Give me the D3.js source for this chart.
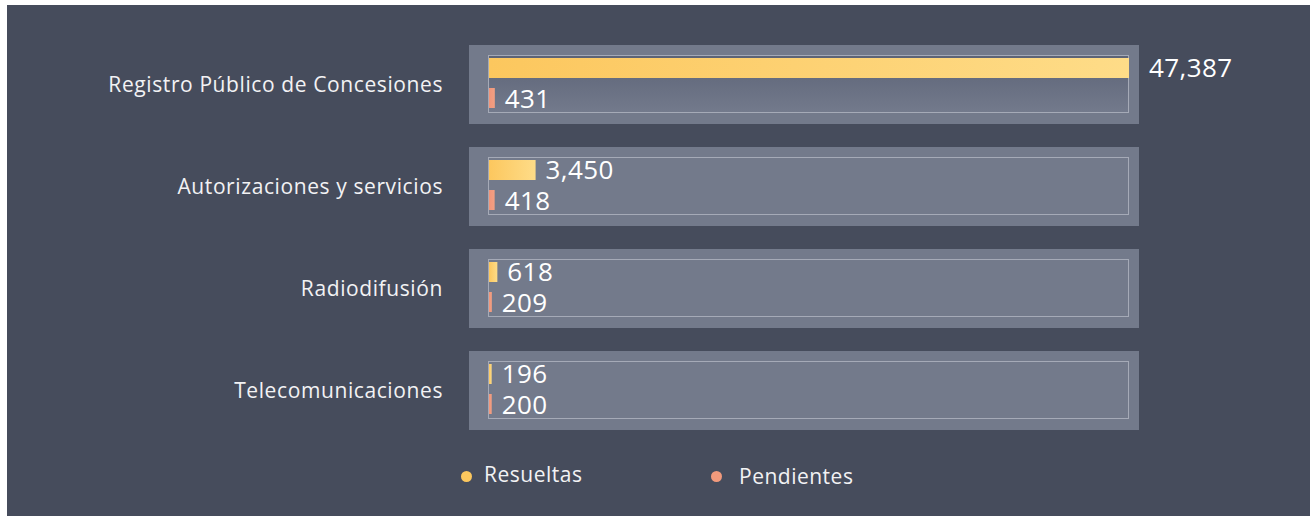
<!DOCTYPE html>
<html>
<head>
<meta charset="utf-8">
<script src="https://cdn.jsdelivr.net/npm/d3@7"></script>
<style>
  html, body { margin: 0; padding: 0; background: #ffffff; }
  svg { display: block; }
  text { font-family: "Open Sans", "Noto Sans", sans-serif; }
</style>
</head>
<body>
<div id="chart"></div>
<script>
// --- Data ---
const categories = [
  "Registro Público de Concesiones",
  "Autorizaciones y servicios",
  "Radiodifusión",
  "Telecomunicaciones",
];
const resueltas = [47387, 3450, 618, 196];
const pendientes = [431, 418, 209, 200];
const seriesNames = ["Resueltas", "Pendientes"];

// --- Setup ---
const W = 1312, H = 516;
const svg = d3.select("#chart").append("svg").attr("width", W).attr("height", H);

const defs = svg.append("defs");
const gradY = defs.append("linearGradient").attr("id", "gradYellow");
gradY.append("stop").attr("offset", "0%").attr("stop-color", "#fcc75e");
gradY.append("stop").attr("offset", "100%").attr("stop-color", "#fedc88");
const gradP = defs.append("linearGradient").attr("id", "gradPink");
gradP.append("stop").attr("offset", "0%").attr("stop-color", "#f1957a");
gradP.append("stop").attr("offset", "100%").attr("stop-color", "#f2a083");
const gradShade = defs.append("linearGradient").attr("id", "gradShade")
  .attr("x1", 0).attr("y1", 0).attr("x2", 0).attr("y2", 1);
gradShade.append("stop").attr("offset", "0%").attr("stop-color", "#5c6376");
gradShade.append("stop").attr("offset", "100%").attr("stop-color", "#737a8c");

// dark panel
svg.append("rect").attr("x", 7).attr("y", 5).attr("width", W - 9).attr("height", H - 5)
  .attr("fill", "#464c5c");

// scales
const y = d3.scaleBand().domain(categories).range([45, 430]).paddingInner(23 / 102).paddingOuter(0);
const x = d3.scaleLinear().domain([0, d3.max(resueltas)]).range([489, 1129]);

const groups = svg.selectAll("g.cat").data(categories).join("g").attr("class", "cat")
  .attr("transform", d => `translate(0, ${y(d)})`);

// outer box
groups.append("rect").attr("x", 469).attr("y", 0).attr("width", 670).attr("height", y.bandwidth())
  .attr("fill", "#737a8b");

// inner frame
groups.append("rect").attr("x", 488.5).attr("y", 10.5).attr("width", 640).attr("height", 57)
  .attr("fill", (d, i) => i === 0 ? "url(#gradShade)" : "none")
  .attr("stroke", "#a5aab7").attr("stroke-width", 1);

// bars
groups.append("rect").attr("x", x(0)).attr("y", 13).attr("height", 20)
  .attr("width", (d, i) => x(resueltas[i]) - x(0))
  .attr("fill", "url(#gradYellow)");
groups.append("rect").attr("x", x(0)).attr("y", 43).attr("height", 20)
  .attr("width", (d, i) => x(pendientes[i]) - x(0))
  .attr("fill", "url(#gradPink)");

// value labels
const fmt = d3.format(",");
const labelX = v => x(v) + (x(v) >= x.range()[1] - 1 ? 20 : 10);
groups.append("text").attr("x", (d, i) => labelX(resueltas[i])).attr("y", 32)
  .attr("fill", "#ffffff").attr("font-size", 26).attr("font-weight", 500)
  .attr("letter-spacing", 0.4)
  .text((d, i) => fmt(resueltas[i]));
groups.append("text").attr("x", (d, i) => labelX(pendientes[i])).attr("y", 63)
  .attr("fill", "#ffffff").attr("font-size", 26).attr("font-weight", 500)
  .attr("letter-spacing", 0.4)
  .text((d, i) => fmt(pendientes[i]));

// category labels
groups.append("text").attr("x", 443).attr("y", y.bandwidth() / 2 - 1)
  .attr("text-anchor", "end").attr("dominant-baseline", "central")
  .attr("fill", "#f2f2f4").attr("font-size", 21).attr("letter-spacing", 0.6)
  .text(d => d);

// legend
const legendColors = ["#fcc75e", "#f29a7c"];
const legendX = [466.5, 716.5];
const legendTextX = [484, 739];
const legend = svg.selectAll("g.legend").data(seriesNames).join("g").attr("class", "legend");
legend.append("circle").attr("cx", (d, i) => legendX[i]).attr("cy", 476.5)
  .attr("r", 5.5).attr("fill", (d, i) => legendColors[i]);
legend.append("text").attr("x", (d, i) => legendTextX[i]).attr("y", (d, i) => 482 + i * 2)
  .attr("fill", "#f2f2f4").attr("font-size", 21).attr("letter-spacing", 0.5)
  .text(d => d);
</script>
</body>
</html>
